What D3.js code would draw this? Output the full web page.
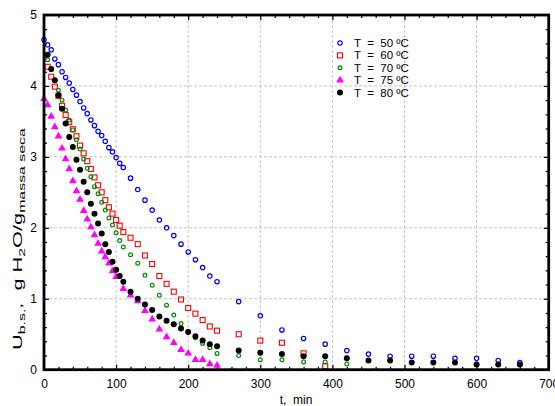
<!DOCTYPE html>
<html>
<head>
<meta charset="utf-8">
<script src="https://cdn.jsdelivr.net/npm/d3@7"></script>
<style>
  body { margin: 0; background: #fff; }
  text { font-family: "Liberation Sans", Arial, sans-serif; }
</style>
</head>
<body>
<div id="chart"></div>
<script>
var svgWidth = 555;
var svgHeight = 406;

// plot box edges in pixels
var margin = { top: 15, right: 6.3, bottom: 36.3, left: 44 };
var width = svgWidth - margin.left - margin.right;
var height = svgHeight - margin.top - margin.bottom;

// time points (min)
var t50 = [0,5,10,15,20,25,30,35,40,45,50,55,60,65,70,75,80,85,90,95,100,105,110,
  120,130,140,150,160,170,180,190,200,210,220,230,240,
  270,300,330,360,390,420,450,480,510,540,570,600,630,660];
var u50 = [4.65,4.58,4.51,4.38,4.30,4.20,4.12,4.04,3.95,3.87,3.78,3.69,3.61,3.52,3.44,3.36,3.30,3.22,3.13,3.07,2.99,2.91,2.85,
  2.70,2.54,2.39,2.25,2.11,2.00,1.89,1.77,1.66,1.55,1.44,1.32,1.24,
  0.96,0.76,0.56,0.44,0.36,0.27,0.22,0.19,0.19,0.19,0.16,0.16,0.13,0.10];

var t60 = [5,10,15,20,25,30,35,40,45,50,55,60,65,70,75,80,85,90,95,100,105,110,
  120,130,140,150,160,170,180,190,200,210,220,230,240,
  270,300,330,360,390];
var u60 = [4.27,4.13,3.99,3.86,3.72,3.59,3.49,3.39,3.29,3.16,3.05,2.94,2.83,2.71,2.60,2.50,2.39,2.29,2.20,2.11,2.03,1.94,
  1.86,1.77,1.61,1.49,1.32,1.21,1.10,0.99,0.87,0.79,0.70,0.61,0.55,
  0.50,0.41,0.38,0.23,0.05];

var t70 = [5,10,15,20,25,30,35,40,45,50,55,60,65,70,75,80,85,90,95,100,105,110,
  120,130,140,150,160,170,180,190,200,210,220,230,240,
  270,300,330,360,390,420];
var u70 = [4.37,4.23,4.08,3.94,3.80,3.66,3.52,3.38,3.24,3.11,2.97,2.84,2.72,2.58,2.48,2.36,2.25,2.14,2.04,1.93,1.82,1.73,
  1.62,1.50,1.33,1.19,1.05,0.91,0.77,0.65,0.54,0.45,0.37,0.31,0.23,
  0.20,0.14,0.14,0.11,0.11,0.08];

var t75 = [0,5,10,15,20,25,30,35,40,45,50,55,60,65,70,75,80,85,90,95,100,
  110,120,130,140,150,160,170,180,190,200,210,220,230,240];
var u75 = [3.82,3.73,3.57,3.42,3.29,3.12,2.97,2.83,2.66,2.52,2.40,2.24,2.12,2.01,1.90,1.78,1.67,1.59,1.50,1.39,1.31,
  1.14,1.05,0.97,0.83,0.71,0.57,0.46,0.38,0.28,0.23,0.14,0.14,0.08,0.06];

var t80 = [5,10,15,20,25,30,35,40,45,50,55,60,65,70,75,80,85,90,95,100,105,110,
  120,130,140,150,160,170,180,190,200,210,220,230,240,
  270,300,330,360,390,420,450,480,510,540,570,600,630,660];
var u80 = [4.44,4.24,4.08,3.87,3.68,3.47,3.28,3.14,2.96,2.82,2.65,2.50,2.34,2.20,2.06,1.92,1.77,1.66,1.52,1.41,1.32,1.24,
  1.10,1.00,0.92,0.84,0.75,0.69,0.64,0.58,0.53,0.47,0.41,0.36,0.33,
  0.27,0.24,0.22,0.19,0.19,0.16,0.13,0.13,0.10,0.10,0.10,0.075,0.075,0.075];

var legendLabels = ["T  =  50 ºC", "T  =  60 ºC", "T  =  70 ºC", "T  =  75 ºC", "T  =  80 ºC"];
var xTicks = [0,100,200,300,400,500,600,700];
var yTicks = [0,1,2,3,4,5];

var series = [
  { t: t50, u: u50, kind: "circle", color: "#0000ff" },
  { t: t60, u: u60, kind: "square", color: "#ff0000" },
  { t: t70, u: u70, kind: "ring", color: "#008a00" },
  { t: t75, u: u75, kind: "triangle", color: "#ff00ff" },
  { t: t80, u: u80, kind: "dot", color: "#000000" }
];

var svg = d3.select("#chart")
  .append("svg")
  .attr("width", svgWidth)
  .attr("height", svgHeight);

var chartGroup = svg.append("g")
  .attr("transform", `translate(${margin.left}, ${margin.top})`);

var xScale = d3.scaleLinear().domain([0, 700]).range([0, width]);
var yScale = d3.scaleLinear().domain([0, 5]).range([height, 0]);

// dashed grid
chartGroup.append("g")
  .selectAll("line")
  .data(xTicks.slice(1, -1))
  .enter()
  .append("line")
  .attr("x1", d => xScale(d)).attr("x2", d => xScale(d))
  .attr("y1", 0).attr("y2", height)
  .attr("stroke", "#c4c4c4").attr("stroke-dasharray", "3,2");

chartGroup.append("g")
  .selectAll("line")
  .data(yTicks.slice(1, -1))
  .enter()
  .append("line")
  .attr("y1", d => yScale(d)).attr("y2", d => yScale(d))
  .attr("x1", 0).attr("x2", width)
  .attr("stroke", "#c4c4c4").attr("stroke-dasharray", "3,2");

// inward ticks on all four sides
function tickAxes(axis, transform, ticks, size) {
  var g = chartGroup.append("g")
    .attr("transform", transform)
    .call(axis.tickValues(ticks).tickSize(size).tickFormat(""));
  g.select(".domain").remove();
  g.selectAll(".tick line").attr("stroke", "#000").attr("stroke-width", 1.2);
  return g;
}
var xMinor = d3.range(0, 701, 20).filter(d => d % 100 !== 0);
var yMinor = d3.range(0, 5.01, 0.2).filter(d => Math.abs(d - Math.round(d)) > 0.01);

tickAxes(d3.axisTop(xScale), `translate(0, ${height})`, xTicks, 5);
tickAxes(d3.axisTop(xScale), `translate(0, ${height})`, xMinor, 3);
tickAxes(d3.axisBottom(xScale), "translate(0, 0)", xTicks, 5);
tickAxes(d3.axisBottom(xScale), "translate(0, 0)", xMinor, 3);
tickAxes(d3.axisRight(yScale), "translate(0, 0)", yTicks, 5);
tickAxes(d3.axisRight(yScale), "translate(0, 0)", yMinor, 3);
tickAxes(d3.axisLeft(yScale), `translate(${width}, 0)`, yTicks, 5);
tickAxes(d3.axisLeft(yScale), `translate(${width}, 0)`, yMinor, 3);

// tick labels
var xAxis = chartGroup.append("g")
  .attr("transform", `translate(0, ${height})`)
  .call(d3.axisBottom(xScale).tickValues(xTicks).tickSize(0).tickPadding(10).tickFormat(d3.format("d")));
xAxis.select(".domain").remove();
xAxis.selectAll("text").attr("font-size", 12).attr("fill", "#000")
  .attr("font-family", "Liberation Sans, Arial, sans-serif");

var yAxis = chartGroup.append("g")
  .call(d3.axisLeft(yScale).tickValues(yTicks).tickSize(0).tickPadding(7).tickFormat(d3.format("d")));
yAxis.select(".domain").remove();
yAxis.selectAll("text").attr("font-size", 12).attr("fill", "#000")
  .attr("font-family", "Liberation Sans, Arial, sans-serif");

// markers
function drawMarker(sel, kind, color) {
  if (kind === "circle") {
    sel.append("circle").attr("r", 2.2).attr("fill", "none")
      .attr("stroke", color).attr("stroke-width", 1.2);
  } else if (kind === "square") {
    sel.append("rect").attr("x", -2.5).attr("y", -2.5).attr("width", 5).attr("height", 5)
      .attr("fill", "none").attr("stroke", color).attr("stroke-width", 1.1);
  } else if (kind === "ring") {
    sel.append("circle").attr("r", 1.9).attr("fill", "none")
      .attr("stroke", color).attr("stroke-width", 1.2);
  } else if (kind === "triangle") {
    sel.append("path").attr("d", d3.symbol().type(d3.symbolTriangle).size(26)())
      .attr("fill", color);
  } else {
    sel.append("circle").attr("r", 3).attr("fill", color);
  }
}

series.forEach(function(s) {
  var pts = s.t.map((t, i) => ({ t: t, u: s.u[i] }));
  var g = chartGroup.append("g");
  pts.forEach(function(p) {
    var m = g.append("g")
      .attr("transform", `translate(${xScale(p.t)}, ${yScale(p.u)})`);
    drawMarker(m, s.kind, s.color);
  });
});

// frame
chartGroup.append("rect")
  .attr("width", width).attr("height", height)
  .attr("fill", "none").attr("stroke", "#000").attr("stroke-width", 2.8);

// legend
var legend = svg.append("g").attr("transform", "translate(340, 43)");
series.forEach(function(s, i) {
  var row = legend.append("g").attr("transform", `translate(0, ${i * 12.4})`);
  drawMarker(row, s.kind, s.color);
  row.append("text")
    .attr("x", 14).attr("y", 4)
    .attr("font-size", 11.5)
    .style("white-space", "pre")
    .text(legendLabels[i]);
});

// axis titles
svg.append("text")
  .attr("x", 296).attr("y", 404)
  .attr("text-anchor", "middle")
  .attr("font-size", 12)
  .style("white-space", "pre")
  .text("t,  min");

// y title: the reference stretches it along the axis (y 127..350)
var yTitleG = svg.append("g");
var yTitle = yTitleG.append("text")
  .attr("font-size", 13)
  .style("white-space", "pre");
yTitle.append("tspan").text("U");
yTitle.append("tspan").attr("font-size", 9.5).attr("dy", 3).text("b.s.");
yTitle.append("tspan").attr("dy", -3).text(",  g H");
yTitle.append("tspan").attr("font-size", 9.5).attr("dy", 3).text("2");
yTitle.append("tspan").attr("dy", -3).text("O/g");
yTitle.append("tspan").attr("font-size", 9.5).attr("dy", 3).text("massa seca");
var titleLen = yTitle.node().getComputedTextLength() || 150;
var sx = 222 / titleLen;
yTitleG.attr("transform", `translate(21.5, 350) rotate(-90) scale(${sx}, 1)`);
</script>
</body>
</html>
